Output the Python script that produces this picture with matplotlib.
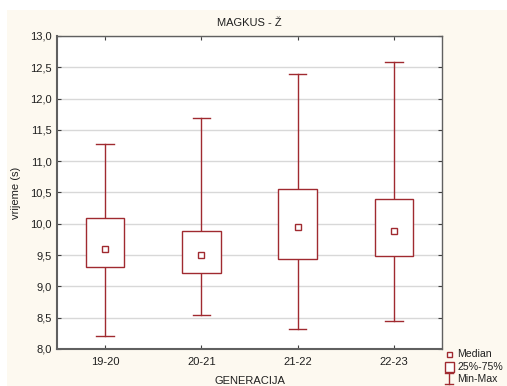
import matplotlib
matplotlib.use("Agg")
import matplotlib.pyplot as plt
from matplotlib.lines import Line2D
from matplotlib.patches import Rectangle
from matplotlib.ticker import FuncFormatter, MultipleLocator

plt.rcParams['font.family'] = ['Liberation Sans', 'DejaVu Sans']

categories = ['19-20', '20-21', '21-22', '22-23']
mins = [8.20, 8.54, 8.32, 8.44]
q1 = [9.315, 9.21, 9.44, 9.48]
medians = [9.59, 9.50, 9.945, 9.88]
q3 = [10.09, 9.89, 10.55, 10.39]
maxs = [11.27, 11.685, 12.39, 12.58]
legend_labels = ['Median', '25%-75%', 'Min-Max']

red = '#a02a30'
cream = '#fdf9f0'
W, H = 507, 386

fig = plt.figure(figsize=(W/100, H/100), dpi=100)
fig.patch.set_facecolor('white')
fig.patches.append(Rectangle((7/W, 0), 1, 1 - 10/H, transform=fig.transFigure,
                             facecolor=cream, edgecolor='none', zorder=-10))

ax = fig.add_axes([57/W, 1 - 349/H, (442-57)/W, (349-36)/H])
ax.set_facecolor('white')

pos = list(range(1, len(categories) + 1))
bw = 0.4
cw = 0.18
for x, lo, a, m, b, hi in zip(pos, mins, q1, medians, q3, maxs):
    ax.add_patch(Rectangle((x - bw/2, a), bw, b - a, facecolor='white',
                           edgecolor=red, lw=1.0, zorder=3))
    ax.plot([x, x], [b, hi], color=red, lw=1.0, zorder=2)
    ax.plot([x, x], [lo, a], color=red, lw=1.0, zorder=2)
    ax.plot([x - cw/2, x + cw/2], [hi, hi], color=red, lw=1.0, zorder=2)
    ax.plot([x - cw/2, x + cw/2], [lo, lo], color=red, lw=1.0, zorder=2)
    ax.plot([x], [m], marker='s', ms=4, mfc='white', mec=red, mew=1.0, zorder=4)

ax.set_xlim(0.5, len(categories) + 0.5)
ax.set_ylim(8.0, 13.0)
ax.set_xticks(pos)
ax.set_xticklabels(categories)
ax.yaxis.set_major_locator(MultipleLocator(0.5))
ax.yaxis.set_major_formatter(FuncFormatter(lambda v, p: f"{v:.1f}".replace('.', ',')))
ax.grid(axis='y', color='#d8d8d8', lw=1.0, zorder=0)
ax.set_axisbelow(True)
ax.tick_params(axis='both', direction='in', top=True, right=True, length=3,
               labelsize=8, color='#404040', labelcolor='#202020', pad=4)
ax.tick_params(axis='x', pad=6)
for s in ax.spines.values():
    s.set_color('#606060')
    s.set_linewidth(1.0)
ax.spines['left'].set_linewidth(1.5)
ax.spines['bottom'].set_linewidth(1.5)

ax.set_title('MAGKUS - Ž', fontsize=8, color='#202020', pad=7)
ax.set_ylabel('vrijeme (s)', fontsize=8, color='#202020', labelpad=6)
ax.set_xlabel('GENERACIJA', fontsize=8, color='#202020', labelpad=6)

# legend drawn in figure pixel coordinates
def fx(px):
    return px / W

def fy(py):
    return 1 - py / H

tf = fig.transFigure
cx = 449
fig.add_artist(Rectangle((fx(cx - 2.5), fy(356.5)), 5/W, 5/H, transform=tf,
                         facecolor='white', edgecolor=red, lw=1.0))
fig.add_artist(Rectangle((fx(cx - 4.5), fy(372)), 9/W, 10/H, transform=tf,
                         facecolor='white', edgecolor=red, lw=1.0))
fig.add_artist(Line2D([fx(cx), fx(cx)], [fy(373), fy(384)], transform=tf, color=red, lw=1.0))
fig.add_artist(Line2D([fx(cx - 4), fx(cx + 4)], [fy(373), fy(373)], transform=tf, color=red, lw=1.0))
fig.add_artist(Line2D([fx(cx - 4), fx(cx + 4)], [fy(384), fy(384)], transform=tf, color=red, lw=1.0))
for lab, py in zip(legend_labels, [354, 367, 379]):
    fig.text(fx(457), fy(py), lab, fontsize=7.6, color='#202020', va='center', ha='left')

fig.savefig('out.png', dpi=100, facecolor=fig.get_facecolor())
